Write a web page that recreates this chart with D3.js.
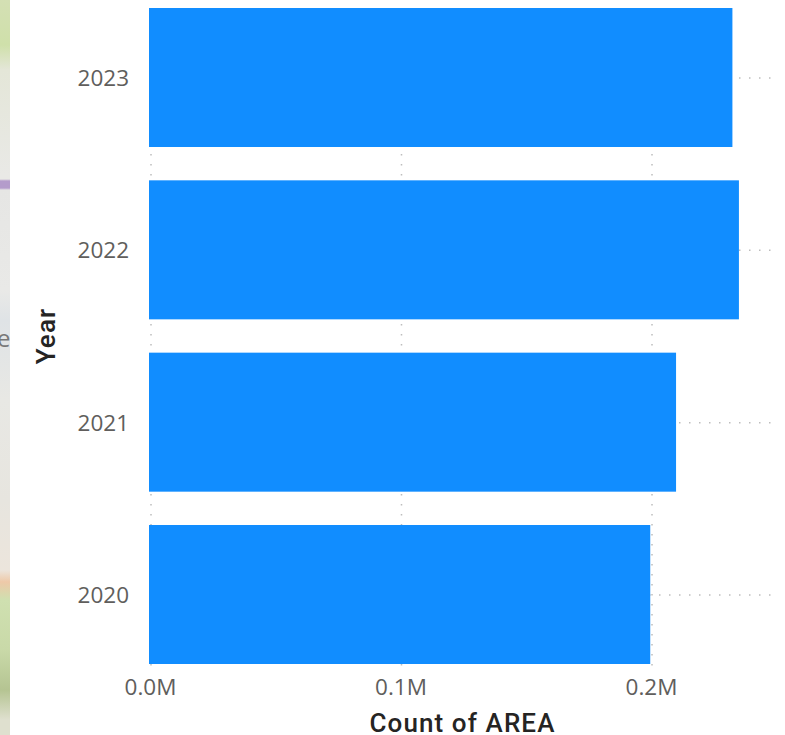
<!DOCTYPE html>
<html>
<head>
<meta charset="utf-8">
<script src="https://cdn.jsdelivr.net/npm/d3@7/dist/d3.min.js"></script>
<style>
html,body{margin:0;padding:0;background:#fff;overflow:hidden}
svg{display:block}
text{font-family:"Open Sans",sans-serif}
</style>
</head>
<body>
<svg id="c" width="785" height="735"></svg>
<script>
const years = ["2023","2022","2021","2020"];
const counts = [232300,234900,209800,199500];
const xTicks = [0,100000,200000];
const xTickLabels = ["0.0M","0.1M","0.2M"];
const xTitle = "Count of AREA";
const yTitle = "Year";
const mapStops = ["#d4e0b4","#cfe0aa","#e4e6d8","#e9e9e6","#e9e9e6","#b49ccb","#b49ccb","#e6e6e4","#e9e9e7","#dfe3e6","#e8e8e4","#e7e5df","#ece5dc","#eec9a8","#cfe0b0","#c9d9a8","#b5c492","#dfe0cf"];
const mapOffsets = [0,45,70,175,179,181,188,190,290,320,400,500,570,582,600,650,690,720];

const svg = d3.select("#c");
const W = 785, H = 735;
const x = d3.scaleLinear().domain([0,100000]).range([150.5,401]);
const y = d3.scaleBand().domain(years).range([8,664]).paddingInner(0.1934).paddingOuter(0);

// background map strip at the left edge
const defs = svg.append("defs");
const grad = defs.append("linearGradient").attr("id","map").attr("x1",0).attr("x2",0).attr("y1",0).attr("y2",1);
mapStops.forEach((c,i)=>grad.append("stop").attr("offset",mapOffsets[i]/735).attr("stop-color",c));
svg.append("rect").attr("x",0).attr("y",0).attr("width",10).attr("height",H).attr("fill","url(#map)");
svg.append("text").attr("x",-3).attr("y",347).attr("font-size",24).attr("fill","#777").text("e");
svg.append("rect").attr("x",10).attr("y",0).attr("width",W-10).attr("height",H).attr("fill","#fff");

// gridlines
const gV = svg.append("g");
gV.selectAll("line").data(xTicks).join("line")
  .attr("x1",d=>x(d)+0.5).attr("x2",d=>x(d)+0.5).attr("y1",14).attr("y2",666)
  .attr("stroke","#bdbdbd").attr("stroke-width",1.5).attr("stroke-dasharray","1.5 8.5");
const gH = svg.append("g");
gH.selectAll("line").data(years).join("line")
  .attr("x1",149).attr("x2",773).attr("y1",d=>y(d)+y.bandwidth()/2+0.5).attr("y2",d=>y(d)+y.bandwidth()/2+0.5)
  .attr("stroke","#bdbdbd").attr("stroke-width",1.5).attr("stroke-dasharray","1.5 8.5");

// bars
svg.append("g").selectAll("rect").data(years).join("rect")
  .attr("x",x(0)-1.5).attr("y",d=>y(d)).attr("height",y.bandwidth())
  .attr("width",(d,i)=>x(counts[i])-x(0)+1.5).attr("fill","#118DFF");

// tick labels
svg.append("g").selectAll("text").data(years).join("text")
  .attr("x",129).attr("y",d=>y(d)+y.bandwidth()/2+0.5).attr("dy","0.36em")
  .attr("text-anchor","end").attr("font-size",22.5).attr("fill","#605E5C").text(d=>d);
svg.append("g").selectAll("text").data(xTicks).join("text")
  .attr("x",d=>x(d)).attr("y",695)
  .attr("text-anchor","middle").attr("font-size",22.5).attr("fill","#605E5C").text((d,i)=>xTickLabels[i]);

// axis titles
svg.append("text").attr("x",462.5).attr("y",732).attr("text-anchor","middle")
  .style("font-family","Roboto").style("letter-spacing","1.1px").attr("font-size",26).attr("font-weight",500).attr("fill","#252423").text(xTitle);
svg.append("text").attr("transform","translate(55,336) rotate(-90)").attr("text-anchor","middle")
  .style("font-family","Roboto").style("letter-spacing","1.1px").attr("font-size",26).attr("font-weight",500).attr("fill","#252423").text(yTitle);
</script>
</body>
</html>
